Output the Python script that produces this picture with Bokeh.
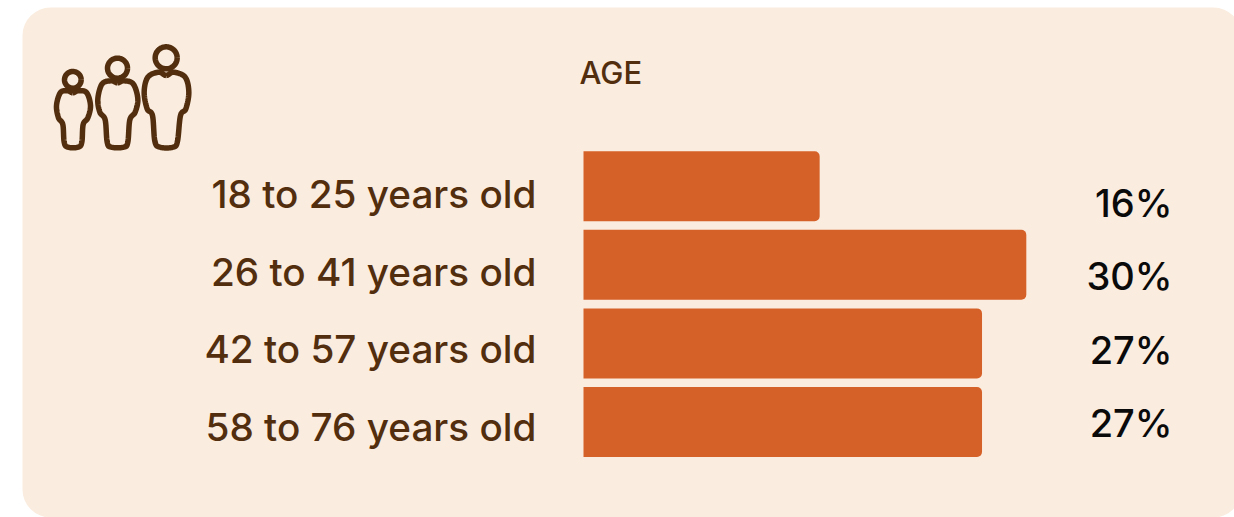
import numpy as np
from bokeh.core.properties import value
from bokeh.embed import file_html
from bokeh.models import ColumnDataSource, Range1d
from bokeh.plotting import figure
from bokeh.resources import INLINE

# ---- data
categories = ["18 to 25 years old", "26 to 41 years old", "42 to 57 years old", "58 to 76 years old"]
shares = [16, 30, 27, 27]
share_labels = ["16%", "30%", "27%", "27%"]
title_text = "AGE"

# ---- layout (window pixels)
W, H, M = 1234, 517, 0
BAR_X0, PX_PER_UNIT = 583, 14.76
BAR_Y0, BAR_PITCH, BAR_H = 185.7, 78.6, 70 / 78.6
BROWN, ORANGE, PANEL, INK = "#522e0e", "#d66128", "#faecdf", "#0a0a0a"
FONT = value("Inter Medium")


def sx(px):
    return (np.asarray(px, dtype=float) - BAR_X0) / PX_PER_UNIT


def sy(py):
    return (np.asarray(py, dtype=float) - BAR_Y0) / BAR_PITCH


p = figure(width=W, height=H, output_backend="svg", toolbar_location=None,
           x_range=Range1d(float(sx(M)), float(sx(M + W))),
           y_range=Range1d(float(sy(M + H)), float(sy(M))),
           min_border=0, outline_line_color=None, background_fill_color="white")
p.axis.visible = False
p.grid.visible = False

# panel
p.quad(left=[float(sx(22))], right=[float(sx(1241))], top=[float(sy(7))], bottom=[float(sy(517))],
       fill_color=PANEL, line_color=None, border_radius=28)

# bars
idx = list(range(len(categories)))
src = ColumnDataSource(dict(y=idx, v=shares, z=[0] * 4))
p.hbar(y="y", left="z", right="v", height=BAR_H, source=src, fill_color=ORANGE,
       line_color=None, border_radius=(0, 5, 5, 0))

# labels
label_y = [193.5, 271.5, 348.5, 426.5]
p.text(x=[float(sx(536))] * 4, y=sy(label_y).tolist(), text=categories, text_align="right",
       text_baseline="middle", text_color=BROWN, text_font=FONT, text_font_size="38.7px")
value_y = [202.5, 275.5, 349.5, 422.5]
p.text(x=[float(sx(1172))] * 4, y=sy(value_y).tolist(), text=share_labels, text_align="right",
       text_baseline="middle", text_color=INK, text_font=FONT, text_font_size="38px")
p.text(x=[float(sx(579))], y=[float(sy(71.5))], text=[title_text], text_align="left",
       text_baseline="middle", text_color=BROWN, text_font=FONT, text_font_size="31px")


# icon: three people outlined
def smooth(points):
    pts = np.array(points, dtype=float)
    n = len(pts)
    out = []
    for i in range(n):
        a, b, c, d = pts[i - 1], pts[i], pts[(i + 1) % n], pts[(i + 2) % n]
        for t in np.linspace(0, 1, 10, endpoint=False):
            out.append(0.5 * (2 * b + (c - a) * t + (2 * a - 5 * b + 4 * c - d) * t**2
                              + (3 * b - a - 3 * c + d) * t**3))
    out.append(out[0])
    return np.array(out)


def zoomed(points):
    return [(30 + x / 3, 30 + y / 3) for x, y in points]


bodies = [
    [(127, 187), (112, 181), (90, 186), (78, 225), (84, 262), (97, 282), (101, 335), (112, 350), (143, 350), (154, 335),
     (158, 282), (172, 262), (180, 225), (168, 186), (142, 181)],
    [(261, 157), (243, 151), (215, 160), (202, 205), (208, 245), (224, 268), (230, 335), (242, 350), (280, 350), (292, 335),
     (298, 268), (314, 245), (322, 205), (308, 160), (279, 151)],
    [(407, 135), (385, 125), (352, 140), (341, 185), (350, 235), (366, 255), (373, 332), (388, 350), (428, 350), (441, 332),
     (450, 255), (466, 235), (475, 185), (464, 140), (429, 125)],
]
heads = [(127, 148, 25), (261, 113, 30), (407, 82, 33)]
for body in bodies:
    c = smooth(zoomed(body))
    p.line(sx(c[:, 0]).tolist(), sy(c[:, 1]).tolist(), line_color=BROWN, line_width=5.5, line_join="round")
for hx, hy, r in heads:
    t = np.linspace(0, 2 * np.pi, 60)
    x = 30 + (hx + r * np.cos(t)) / 3
    y = 30 + (hy + r * np.sin(t)) / 3
    p.line(sx(x).tolist(), sy(y).tolist(), line_color=BROWN, line_width=5.5)

open("out.html", "w").write(file_html(p, INLINE))
